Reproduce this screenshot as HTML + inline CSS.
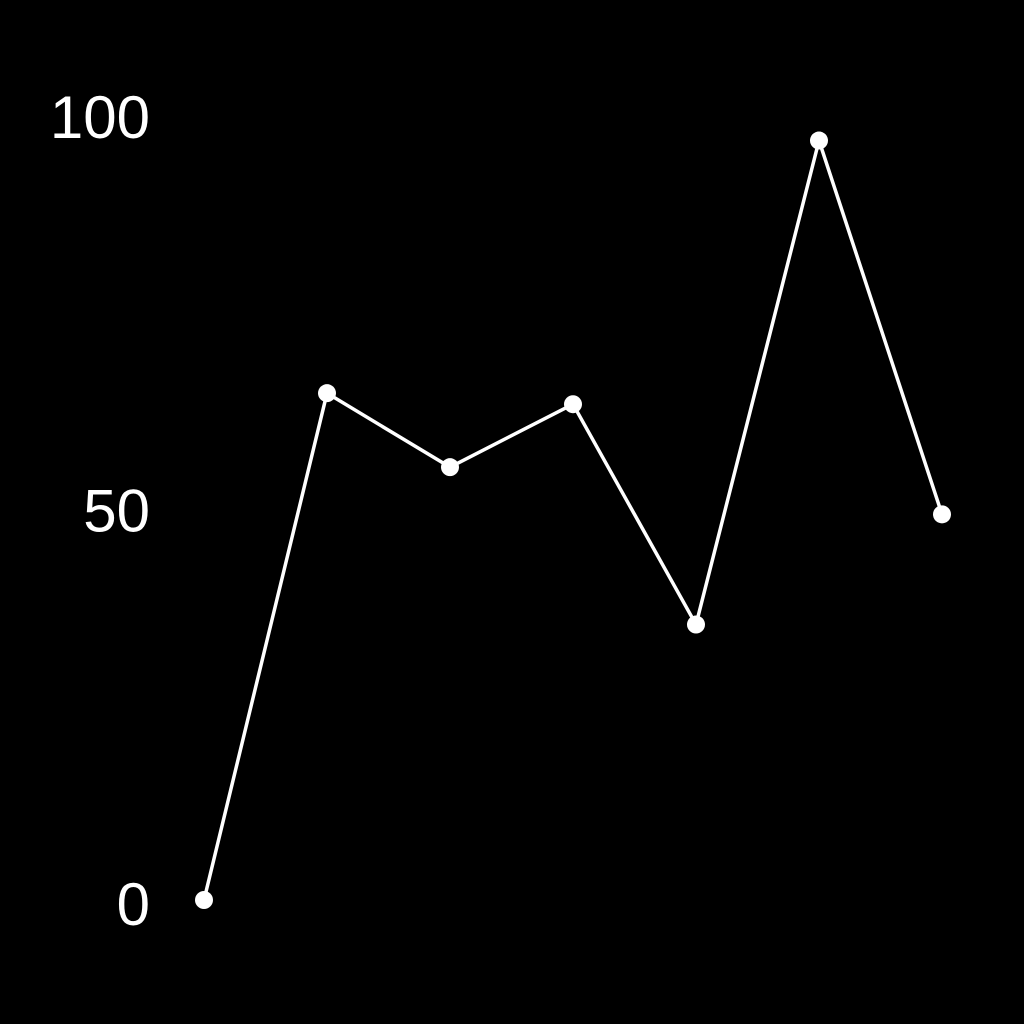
<!DOCTYPE html>
<html><head><meta charset="utf-8"><style>
html,body{margin:0;padding:0;background:#000;}
svg{display:block;}
</style></head><body>
<svg width="1024" height="1024" viewBox="0 0 1024 1024">
<rect width="1024" height="1024" fill="#000"/>
<g id="ticks"></g>
<g id="plot"></g>
</svg>
<script>
const categories = [0, 1, 2, 3, 4, 5, 6];
const values = [0, 64.4, 55, 63, 35, 96.5, 49];
const tickValues = [0, 50, 100];
const tickLabels = ["0", "50", "100"];

const NS = "http://www.w3.org/2000/svg";
function xScale(i){ return 204 + i * 123; }
function yScale(v){ return 900 - v * 7.87; }

const ticks = document.getElementById('ticks');
tickValues.forEach((v, k) => {
  const t = document.createElementNS(NS, 'text');
  
  
  t.setAttribute('x', 150);
  t.setAttribute('y', yScale(v) + 25);
  t.setAttribute('text-anchor', 'end');
  t.setAttribute('fill', '#fff');
  t.setAttribute('font-size', '60');
  t.setAttribute('font-family', '"Liberation Sans", sans-serif');
  t.textContent = tickLabels[k];
  ticks.appendChild(t);
});

const plot = document.getElementById('plot');
const line = document.createElementNS(NS, 'polyline');


line.setAttribute('points', categories.map((c, i) => xScale(c) + ',' + yScale(values[i])).join(' '));
line.setAttribute('fill', 'none');
line.setAttribute('stroke', '#fff');
line.setAttribute('stroke-width', '3.5');
line.setAttribute('stroke-linejoin', 'round');
plot.appendChild(line);

categories.forEach((c, i) => {
  const p = document.createElementNS(NS, 'circle');
  
  
  p.setAttribute('cx', xScale(c));
  p.setAttribute('cy', yScale(values[i]));
  p.setAttribute('r', 9);
  p.setAttribute('fill', '#fff');
  plot.appendChild(p);
});
</script>
</body></html>
